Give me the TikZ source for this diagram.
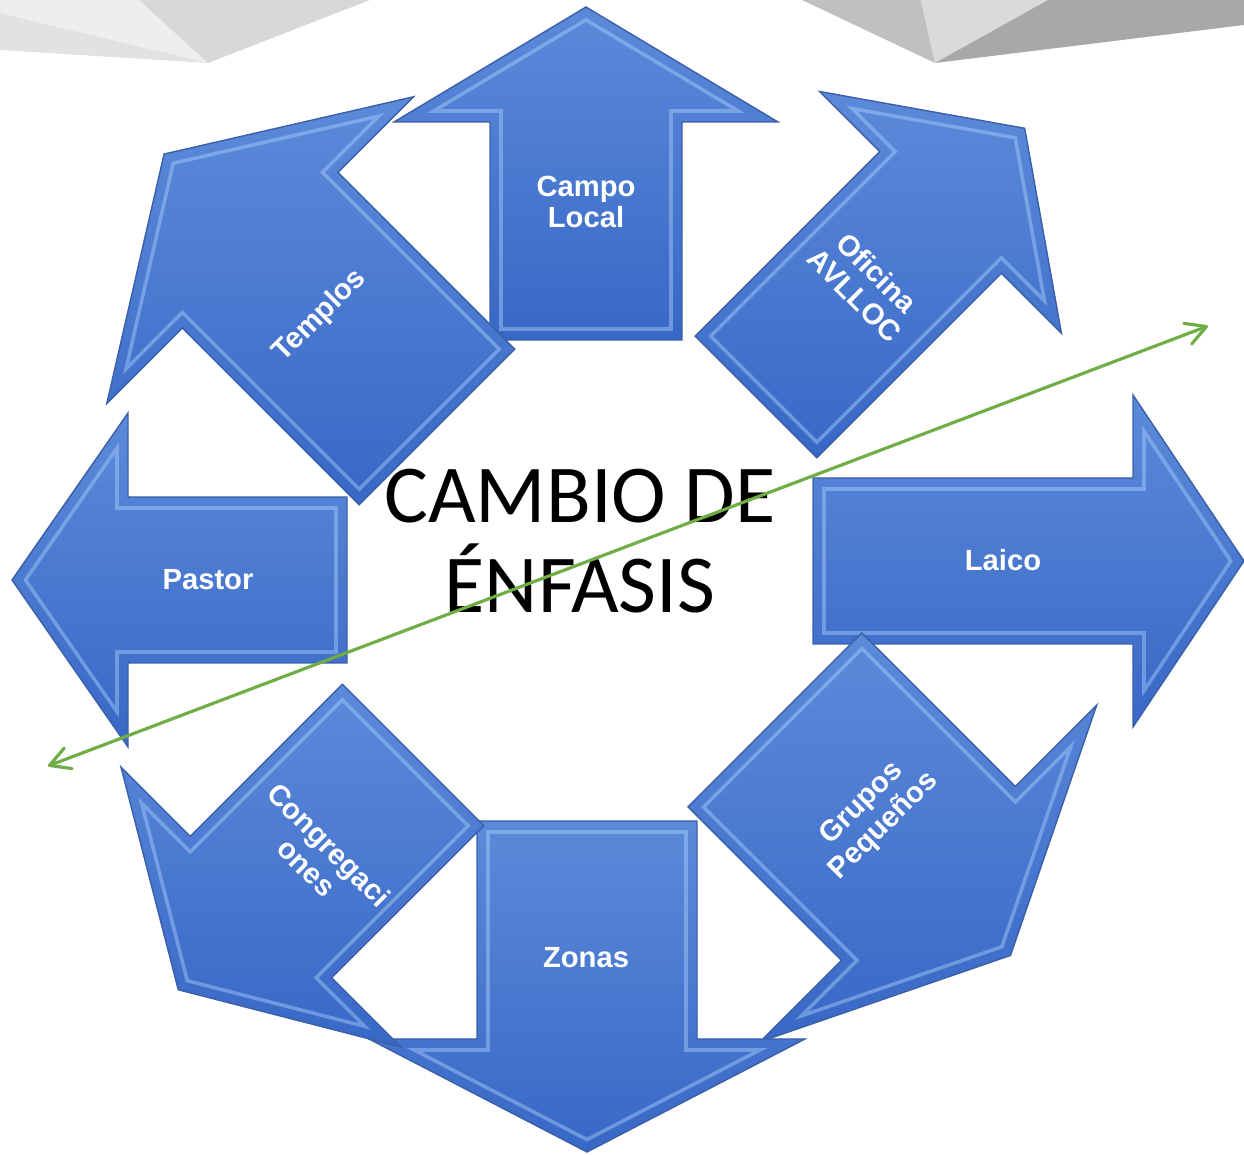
\documentclass[tikz,border=0pt]{standalone}
\usepackage{fontspec}
\setmainfont{Liberation Sans}
\newfontfamily\calibrifont{Carlito}
\usetikzlibrary{arrows.meta}
\definecolor{arrowtop}{RGB}{92,138,218}
\definecolor{arrowbottom}{RGB}{56,104,198}
\definecolor{arrowedge}{RGB}{60,96,168}
\definecolor{bevellight}{RGB}{172,208,252}
\definecolor{linegreen}{RGB}{112,173,71}
\definecolor{greyone}{RGB}{238,238,238}
\definecolor{greytwo}{RGB}{216,216,216}
\definecolor{greythree}{RGB}{226,226,226}
\definecolor{greyfour}{RGB}{192,192,194}
\definecolor{greyfive}{RGB}{218,218,220}
\definecolor{greysix}{RGB}{168,168,170}
\tikzset{
	arrowfill/.style={top color=arrowtop, bottom color=arrowbottom, draw=arrowedge, line width=0.4pt},
	bevel/.style={draw=bevellight, draw opacity=0.45, line width=1pt},
	lbl/.style={text=white, font=\fontsize{8.3}{9}\selectfont\bfseries, align=center, inner sep=0pt},
	greenline/.style={draw=linegreen, line width=0.9pt, {Straight Barb[length=2mm,width=2.2mm,round]}-{Straight Barb[length=2mm,width=2.2mm,round]}}
}
\newcommand{\bevelarrow}[4]{\path[arrowfill] (0,-#2) -- (#1,-#2) -- (#1,-#3) -- ({#1+#4},0) -- (#1,#3) -- (#1,#2) -- (0,#2) -- cycle;
					\pgfmathsetmacro{\arrslant}{veclen(#3,#4)}
					\pgfmathsetmacro{\arrhy}{#3-#3/#4*11-11*\arrslant/#4}
					\pgfmathsetmacro{\arrtx}{#1+#4-11*\arrslant/#3}
					\draw[bevel] (11,-#2+11) -- (#1+11,-#2+11) -- (#1+11,-\arrhy) -- (\arrtx,0) -- (#1+11,\arrhy) -- (#1+11,#2-11) -- (11,#2-11) -- cycle;}

\begin{document}
\begin{tikzpicture}[x=0.01cm, y=-0.01cm]
					\useasboundingbox (0,0) rectangle (1244,1155);

					\fill[greyone] (0,0) -- (139,0) -- (208,63) -- (0,13) -- cycle;
					\fill[greytwo] (139,0) -- (370,0) -- (208,63) -- cycle;
					\fill[greythree] (0,13) -- (208,63) -- (0,50) -- cycle;
					\fill[greyfour] (802,0) -- (921,0) -- (935,63) -- cycle;
					\fill[greyfive] (921,0) -- (1048,0) -- (935,63) -- cycle;
					\fill[greysix] (1048,0) -- (1244,0) -- (1244,25) -- (935,63) -- cycle;

					\begin{scope}[shift={(586,340)}, rotate = 90]
						\bevelarrow{218}{96}{192}{115}
					\end{scope}

					\begin{scope}[shift={(756,397)}, rotate = 45]
						\bevelarrow{261}{86}{171}{119}
					\end{scope}

					\begin{scope}[shift={(813,561)}, rotate = 0]
						\bevelarrow{320}{83}{166}{111}
					\end{scope}

					\begin{scope}[shift={(775,720)}, rotate = -45]
						\bevelarrow{217}{123}{238}{116}
					\end{scope}

					\begin{scope}[shift={(587,821)}, rotate = -90]
						\bevelarrow{218}{110}{218}{113}
					\end{scope}

					\begin{scope}[shift={(413,755)}, rotate = -135]
						\bevelarrow{215}{100}{198}{117}
					\end{scope}

					\begin{scope}[shift={(347,580)}, rotate = 180]
						\bevelarrow{219}{83}{167}{116}
					\end{scope}

					\begin{scope}[shift={(437,427)}, rotate = 135]
						\bevelarrow{250}{110}{217}{136}
					\end{scope}

					\node[lbl] (campo) at (586,202) {Campo\\Local};
					\node[lbl, rotate=-45] (oficina) at (866,284) {Oficina\\AVLLOC};
					\node[lbl] (laico) at (1003,560) {Laico};
					\node[lbl, rotate=45] (grupos) at (873,815) {Grupos\\Pequeños};
					\node[lbl] (zonas) at (586,958) {Zonas};
					\node[lbl, rotate=-45] (congregaciones) at (318,856) {Congregaci\\ones};
					\node[lbl] (pastor) at (208,580) {Pastor};
					\node[lbl, rotate=45] (templos) at (320,316) {Templos};

					\node[font=\calibrifont\fontsize{23.4}{25.8}\selectfont, align=center, inner sep=0pt] (enfasis) at (580,541) {CAMBIO DE\\ÉNFASIS};

					\coordinate (greenleft) at (48,766);
					\coordinate (greenright) at (1208,326);
					\draw[greenline] (greenleft) -- (greenright);

				\end{tikzpicture}
\end{document}
